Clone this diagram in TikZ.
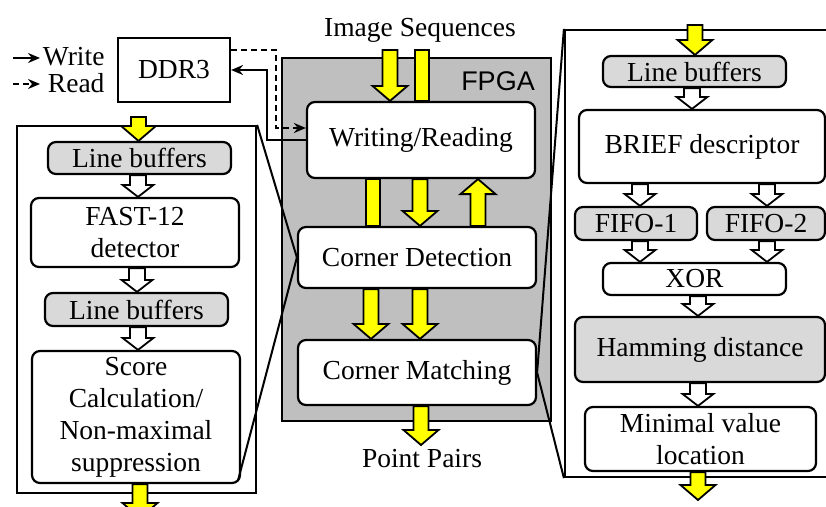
\documentclass[tikz,border=0pt]{standalone}
\usepackage{fontspec}
\setmainfont{Liberation Serif}
\newfontfamily\fpgafont{Liberation Sans}
\usetikzlibrary{arrows.meta,calc}

\definecolor{fpgagray}{RGB}{191,191,191}
\definecolor{bufgray}{RGB}{217,217,217}
\definecolor{flowyellow}{RGB}{255,255,0}

% a node given by its corners: style, name, x1, y1, x2, y2, text
\newcommand\cbox[7]{%
  \node[#1,minimum width={#5-#3},minimum height={#6-#4}] (#2) at ({(#3+#5)/2},{(#4+#6)/2}) {#7};}

% vertical block arrows: fill, shaft half width, head half width, head length, x, from, to
\newcommand\blkdown[7]{%
  \path[blk,fill=#1] let \p1=#6, \p2=#7 in
    ({#5pt-#2pt},\y1) -- ({#5pt-#2pt},\y2+#4pt) -- ({#5pt-#3pt},\y2+#4pt) -- (#5pt,\y2)
    -- ({#5pt+#3pt},\y2+#4pt) -- ({#5pt+#2pt},\y2+#4pt) -- ({#5pt+#2pt},\y1) -- cycle;}
\newcommand\blkup[7]{%
  \path[blk,fill=#1] let \p1=#6, \p2=#7 in
    ({#5pt-#2pt},\y1) -- ({#5pt-#2pt},\y2-#4pt) -- ({#5pt-#3pt},\y2-#4pt) -- (#5pt,\y2)
    -- ({#5pt+#3pt},\y2-#4pt) -- ({#5pt+#2pt},\y2-#4pt) -- ({#5pt+#2pt},\y1) -- cycle;}
\newcommand\blkbar[5]{%
  \path[blk,fill=#1] let \p1=#4, \p2=#5 in
    ({#3pt-#2pt},\y1) rectangle ({#3pt+#2pt},\y2);}
\newcommand\ydown[3]{\blkdown{flowyellow}{7.5}{17.5}{15}{#1}{#2}{#3}}
\newcommand\yup[3]{\blkup{flowyellow}{7.5}{17.5}{15}{#1}{#2}{#3}}
\newcommand\ybar[3]{\blkbar{flowyellow}{7}{#1}{#2}{#3}}
\newcommand\wdown[3]{\blkdown{white}{8}{15.5}{12}{#1}{#2}{#3}}

\begin{document}
\begin{tikzpicture}[x=1pt,y=-1pt,
  every node/.style={font=\fontsize{27.5}{32}\selectfont},
  box/.style={draw,line width=2.2pt,rounded corners=8pt,fill=white,inner sep=0pt,align=center},
  grbox/.style={box,fill=bufgray},
  panel/.style={draw,line width=2.2pt,fill=white,inner sep=0pt},
  blk/.style={draw=black,line width=1.8pt,line join=miter},
  conn/.style={line width=2pt},
  rd/.style={conn,dash pattern=on 6pt off 4pt},
  tip/.style={-{Stealth[length=12pt,width=10pt,inset=4pt]}},
  zoomline/.style={line width=2pt}]

\useasboundingbox (0,0) rectangle (826,506);
\fill[white] (0,0) rectangle (826,506);
\clip (0,0) rectangle (826,506);

% FPGA region and the two detail panels
\cbox{panel,fill=fpgagray}{fpga}{282}{58}{551}{421}{}
\node[font=\fpgafont\fontsize{27}{27}\selectfont,anchor=base] (fpgalabel) at (498,90) {FPGA};
\cbox{panel}{lpanel}{17}{126}{256}{493}{}
\cbox{panel}{rpanel}{565}{30}{900}{477}{}

% external memory
\cbox{panel}{ddr}{118}{38}{230}{102}{DDR3}

% FPGA blocks
\cbox{box}{wr}{307}{102}{535}{178}{Writing/Reading}
\cbox{box}{cd}{298}{227}{536}{288}{Corner Detection}
\cbox{box}{cm}{298}{340}{536}{405}{Corner Matching}

% corner detection detail
\cbox{grbox}{lb1}{48}{142}{231}{174}{Line buffers}
\cbox{box}{fast}{31}{198}{239}{267}{FAST-12\\detector}
\cbox{grbox}{lb2}{45}{293}{228}{326}{Line buffers}
\cbox{box}{score}{32}{351}{240}{483}{Score\\Calculation/\\Non-maximal\\suppression}

% corner matching detail
\cbox{grbox}{rlb}{603}{56}{786}{87}{Line buffers}
\cbox{box}{brief}{579}{110}{825}{183}{BRIEF descriptor}
\cbox{grbox}{fifo1}{575}{207}{697}{240}{FIFO-1}
\cbox{grbox}{fifo2}{707}{207}{825}{240}{FIFO-2}
\cbox{box}{xor}{603}{263}{786}{295}{XOR}
\cbox{grbox}{ham}{575}{317}{825}{382}{Hamming distance}
\cbox{box}{minv}{585}{407}{816}{471}{Minimal value\\location}

% input / output labels
\node[anchor=base] (seq) at (420,36) {Image Sequences};
\node[anchor=base] (pp) at (422,467) {Point Pairs};

% legend
\coordinate (wa) at (13,58); \coordinate (wb) at (40,58);
\coordinate (ra) at (13,84); \coordinate (rb) at (40,84);
\draw[conn,tip] (wa) -- (wb);
\draw[rd,tip] (ra) -- (rb);
\node[anchor=base east] (wlabel) at (108,65) {Write};
\node[anchor=base east] (rlabel) at (108,92) {Read};

% memory traffic
\draw[rd,tip] ([yshift=20pt]ddr.east) -| ([xshift=-30pt,yshift=12pt]wr.west) -- ([yshift=12pt]wr.west);
\draw[conn,tip] (wr.west) -- ([xshift=-39pt]wr.west) |- (ddr.east);

% zoom-out lines to the detail panels
\draw[zoomline] (lpanel.north east) -- (cd.west);
\draw[zoomline] ($(score.south east)+(-3,-4)$) -- (cd.west);
\draw[zoomline] (rpanel.north west) -- (cm.east);
\draw[zoomline] (rpanel.south west) -- (cm.east);

% data flow in the FPGA
\coordinate (seqbot) at (0,50);
\coordinate (pptop) at (0,445);
\ydown{390}{(seqbot)}{(wr.north)}
\ybar{422}{(seqbot)}{(wr.north)}
\ybar{373}{(wr.south)}{(cd.north)}
\ydown{420}{(wr.south)}{(cd.north)}
\yup{478}{(cd.north)}{(wr.south)}
\ydown{371}{(cd.south)}{(cm.north)}
\ydown{420}{(cd.south)}{(cm.north)}
\ydown{421}{(cm.south)}{(pptop)}

% flow in the detection panel
\coordinate (lin) at (0,117);
\coordinate (lout) at (0,518);
\ydown{138.5}{(lin)}{(lb1.north)}
\wdown{138}{(lb1.south)}{(fast.north)}
\wdown{137}{(fast.south)}{(lb2.north)}
\wdown{138}{(lb2.south)}{(score.north)}
\ydown{140}{(score.south)}{(lout)}

% flow in the matching panel
\coordinate (rin) at (0,25);
\coordinate (rout) at (0,500);
\ydown{695}{(rin)}{(rlb.north)}
\wdown{692}{(rlb.south)}{(brief.north)}
\wdown{640}{(brief.south)}{(fifo1.north)}
\wdown{767}{(brief.south)}{(fifo2.north)}
\wdown{640}{(fifo1.south)}{(xor.north)}
\wdown{767}{(fifo2.south)}{(xor.north)}
\wdown{698}{(xor.south)}{(ham.north)}
\wdown{698}{(ham.south)}{(minv.north)}
\ydown{698}{(minv.south)}{(rout)}

\end{tikzpicture}
\end{document}
